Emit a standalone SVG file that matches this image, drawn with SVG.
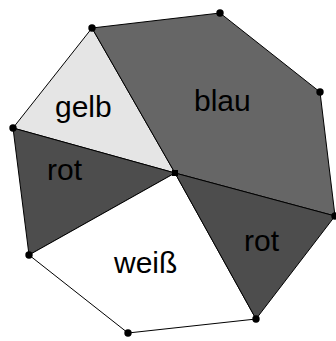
<svg xmlns="http://www.w3.org/2000/svg" width="336" height="341" viewBox="0 0 336 341">
  <style>
    .face { stroke: #000; stroke-width: 1; stroke-linejoin: round; }
    .lbl { font-family: "Liberation Sans", Arial, sans-serif; font-size: 30px; fill: #000; }
    .pt { fill: #000; }
  </style>
  <rect width="336" height="341" fill="#fff"/>
  <!-- faces of the subdivided octagon, all meeting at the inner vertex (175,173) -->
  <g id="gelb">
    <polygon class="face" points="92,28 13,128 175,173" fill="#e5e5e5"/>
    <text class="lbl" x="55" y="117">gelb</text>
  </g>
  <g id="blau">
    <polygon class="face" points="92,28 220,13 320,92 335,216 175,173" fill="#666666"/>
    <text class="lbl" x="194" y="111">blau</text>
  </g>
  <g id="rot-links">
    <polygon class="face" points="13,128 29,255 175,173" fill="#4d4d4d"/>
    <text class="lbl" x="47" y="180">rot</text>
  </g>
  <g id="weiss">
    <polygon class="face" points="29,255 128,333 256,319 175,173" fill="#ffffff"/>
    <text class="lbl" x="114" y="273">weiß</text>
  </g>
  <g id="rot-rechts">
    <polygon class="face" points="175,173 335,216 256,319" fill="#4d4d4d"/>
    <text class="lbl" x="244" y="251">rot</text>
  </g>
  <!-- vertices -->
  <g id="ecken">
    <circle class="pt" cx="92" cy="28" r="3.7"/>
    <circle class="pt" cx="220" cy="13" r="3.7"/>
    <circle class="pt" cx="320" cy="92" r="3.7"/>
    <circle class="pt" cx="335" cy="216" r="3.7"/>
    <circle class="pt" cx="256" cy="319" r="3.7"/>
    <circle class="pt" cx="128" cy="333" r="3.7"/>
    <circle class="pt" cx="29" cy="255" r="3.7"/>
    <circle class="pt" cx="13" cy="128" r="3.7"/>
    <rect class="pt" x="172" y="170" width="6" height="6"/>
  </g>
</svg>
